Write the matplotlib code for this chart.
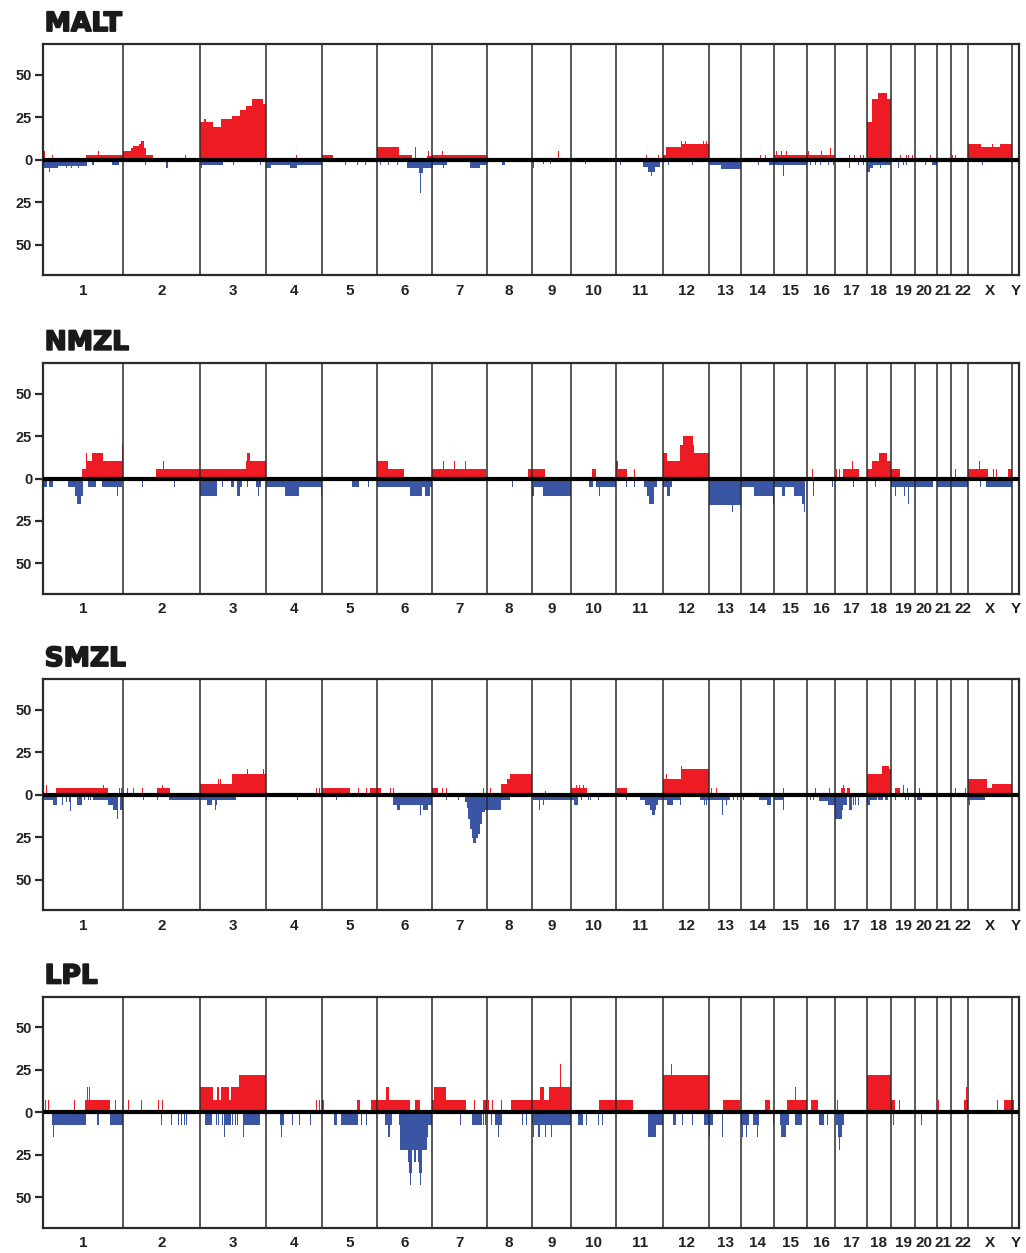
import matplotlib
matplotlib.use('Agg')
import matplotlib.pyplot as plt
import matplotlib.patheffects as pe
import numpy as np

RED = '#ED1C24'
BLUE = '#3A55A4'
LINE = '#2b2b2b'

chrom_names = [str(i) for i in range(1, 23)] + ['X', 'Y']
# relative chromosome widths as drawn along the genome axis
chrom_sizes = [80, 77, 65.7, 56, 55, 54.7, 55, 45, 39.3, 45, 47.3, 46, 31.4,
               33.3, 33, 28.3, 31.4, 24, 24.6, 21.4, 14.3, 17, 44.3, 6.4]

panel_names = ['MALT', 'NMZL', 'SMZL', 'LPL']

# (genome start, genome end, % of cases)
malt_gain = [
    (0.3, 1.3, 5), (8.7, 9.7, 3), (42.7, 80, 3), (54.7, 55.7, 5),
    (80, 87.4, 5), (87.4, 90, 7), (90, 95.7, 8), (95.7, 98, 9), (98, 100.7, 11), (100.7, 102.4, 7),
    (102.4, 109.4, 3), (142, 143, 3),
    (157, 160.7, 22), (160.7, 162.4, 24), (162.4, 170, 22), (170, 177.4, 19.5), (177.4, 188.4, 24),
    (188.4, 196.7, 26), (196.7, 202.4, 29.5), (202.4, 209, 31.5), (209, 219.4, 35.5), (219.4, 222.7, 33),
    (253, 254, 3), (278.7, 290, 3),
    (333.7, 355.7, 7.3), (355.7, 368.4, 3), (372, 373, 7.3), (383.4, 388.4, 2.5), (384.5, 385.5, 5),
    (388.4, 443.4, 3), (399, 400, 5),
    (514.5, 515.5, 5), (603, 604, 3), (614.5, 615.5, 3),
    (620, 622.7, 3), (622.7, 637.7, 7.3), (637.7, 666, 9.4), (638, 639, 11), (641.5, 642.5, 11),
    (660, 661, 11), (662.5, 663.5, 11),
    (716.2, 717.2, 3), (721.2, 722.2, 3),
    (730.7, 763.7, 3), (733, 734, 5), (738, 739, 5), (743, 744, 5),
    (763.7, 792, 3), (764.5, 765.5, 5), (778, 779, 5), (786.2, 787.2, 7),
    (805.5, 806.5, 3), (810.5, 811.5, 3), (817, 818, 3), (819.5, 820.5, 3),
    (823.4, 828.4, 22), (828.4, 835, 35.5), (835, 843.4, 39.5), (843.4, 847.4, 35.5),
    (856.2, 857.2, 3), (863, 864, 3), (864.5, 865.5, 3), (869, 870, 3),
    (886.2, 887.2, 3), (908.5, 909.5, 3), (911.2, 912.2, 3),
    (924.7, 937.7, 9.4), (937.7, 956.7, 7.3), (949, 950, 9.4), (956.7, 969, 9.4),
]
malt_loss = [
    (0, 10, 5), (6, 7, 7.5), (10, 15, 5), (15, 43.4, 3.5), (23, 24, 5), (28, 29, 5), (34.5, 35.5, 5),
    (48.4, 50.7, 3), (68.4, 75.7, 3),
    (102, 103, 3), (122.4, 124.4, 5),
    (157, 180, 3.3), (158, 159, 5), (189.5, 190.5, 3), (216.2, 217.2, 3),
    (222.7, 227.4, 5), (227.4, 246.7, 3), (246.7, 253.4, 5), (253.4, 278.7, 3),
    (302, 303, 3), (314, 315, 3), (321.2, 322.2, 3),
    (336.2, 337.2, 3), (344.5, 345.5, 3), (353.5, 354.5, 3), (364, 388.4, 5), (376, 379.4, 8), (377, 378, 19.6),
    (388.4, 390, 5), (390, 403.4, 3), (399.5, 400.5, 5), (426.7, 436.7, 5), (436.7, 443.4, 3),
    (458.4, 461.7, 3),
    (489.5, 490.5, 5), (499.5, 500.5, 2.5), (506.2, 507.2, 2.5),
    (541.2, 542.2, 2.5),
    (576.2, 577.2, 3), (600, 616.7, 4), (605, 611.7, 7), (608, 609, 9.4),
    (624.5, 625.5, 3), (649, 650, 3),
    (666, 677.4, 3.3), (677.4, 697.4, 5.3),
    (714.5, 715.5, 3), (726, 730.7, 3),
    (730.7, 763.7, 3), (739.5, 740.5, 9.4),
    (766.2, 767.2, 3), (771.2, 772.2, 3), (776.2, 777.2, 3), (784.5, 785.5, 3), (789.5, 790.5, 3),
    (805.5, 806.5, 5), (814.5, 815.5, 3), (819.5, 820.5, 3),
    (823.4, 826.7, 7.5), (826.7, 830, 5), (830, 847.4, 3), (836.2, 837.2, 5),
    (854.5, 855.5, 5), (859.5, 860.5, 3), (863, 864, 3),
    (881.2, 882.2, 3), (888.4, 893.4, 3),
    (939, 940, 3),
]

nmzl_gain = [
    (38.7, 42.7, 5.5), (42.7, 48.7, 10.5), (43, 44, 15), (48.7, 59.4, 15), (59.4, 78.4, 10.5), (78.4, 80, 20),
    (112.7, 157, 5.5), (119.5, 120.5, 10.5),
    (157, 202.4, 5.5), (202.4, 204, 10.5), (204, 206.7, 15), (206.7, 222.7, 10.5),
    (333.7, 344.4, 10.5), (344.4, 360.7, 5.5),
    (388.4, 443, 5.5), (399.5, 400.5, 10.5), (410.2, 411.2, 10.5), (421.2, 422.2, 10.5),
    (484.4, 501.7, 5.5),
    (548.4, 552.7, 5.5),
    (572.7, 575, 10.5), (575, 583.4, 5.5), (590.5, 591.5, 5.5),
    (620, 623.4, 15), (623.4, 636.7, 10.5), (636.7, 639.4, 20), (639.4, 649.4, 25), (649.4, 651, 20), (651, 666, 15),
    (768.5, 769.5, 5.5),
    (792.2, 793.2, 5.5), (795.5, 796.5, 5.5), (799.4, 815.4, 5.5), (809, 810, 10.5),
    (823.4, 828.7, 5.5), (828.7, 836, 10.5), (836, 843.4, 15), (843.4, 847.4, 10.5),
    (847.4, 856.4, 5.5),
    (911.2, 912.2, 5.5),
    (924.7, 944.4, 5.5), (935.5, 936.5, 10.5), (949.5, 950.5, 5.5), (952.2, 953.2, 5.5), (964.7, 969, 5.5),
]
nmzl_loss = [
    (0, 3.4, 5), (5.7, 10, 5), (25, 31.7, 5), (31.7, 33.4, 10), (33.4, 37.7, 15), (37.7, 39.4, 10),
    (44.7, 53, 5), (59, 78.4, 5), (74.2, 75.2, 10),
    (99, 100, 5), (131.2, 132.2, 5),
    (157, 174, 10), (179, 180, 5), (188, 191, 5), (194, 196.7, 10), (196.7, 199, 5), (203.5, 204.5, 5),
    (212.7, 217.4, 5), (214.5, 215.5, 10),
    (222.7, 241.7, 5), (241.7, 255.7, 10), (255.7, 278, 5), (277.2, 278.2, 10),
    (309, 315.7, 5), (324.5, 325.5, 5),
    (333.7, 366.7, 5), (366.7, 378.4, 10), (378.4, 381.7, 5), (381.7, 386.7, 10), (386.7, 388.4, 5),
    (469, 470, 5),
    (488.4, 491, 10), (491, 500, 5), (500, 527.7, 10),
    (546, 550, 5), (552.7, 572.7, 5), (555.2, 556.2, 10),
    (582.2, 583.2, 5), (590.5, 591.5, 5), (601, 613.4, 5), (603.4, 610.7, 10), (606, 610.7, 15),
    (620, 628.4, 5), (623.4, 626.7, 10),
    (666, 697.4, 15.3), (688.5, 689.5, 20),
    (697.4, 710.7, 5), (710.7, 729.4, 10), (729.4, 730.4, 15),
    (730.7, 738.4, 5), (738.4, 741.7, 10), (741.7, 750.4, 5), (750.4, 758.4, 10), (758.4, 761.7, 15),
    (760.5, 761.5, 20),
    (769.5, 770.5, 10), (789, 790, 5),
    (809.5, 810.5, 5),
    (831.2, 832.2, 5),
    (847.4, 872, 5), (851.5, 852.5, 10), (860.2, 861.2, 10), (864.5, 865.5, 15),
    (872, 889.4, 5),
    (894, 907.7, 5),
    (907.7, 924.7, 5),
    (936.2, 937.2, 5), (942.4, 969, 5),
]

smzl_gain = [
    (2.5, 3.5, 6), (12.7, 65, 3.8), (60.2, 61.2, 6), (76.2, 77.2, 3.8), (78.2, 79.2, 3.8),
    (84, 85, 3.8), (89.5, 90.5, 3.8), (99, 100, 3.8), (114, 126.7, 3.8), (119, 120, 6),
    (157, 174, 6.2), (174.5, 175.5, 9), (176.2, 177.2, 9), (174, 188.4, 6.2), (188.4, 222.7, 12),
    (203.5, 204.5, 15), (219.5, 220.5, 15),
    (272.2, 273.2, 3.8), (275.5, 276.5, 3.8),
    (278.7, 306.7, 3.8), (314.5, 315.5, 3.8), (323, 324, 3.8), (326.7, 337.7, 3.8),
    (346.2, 347.2, 3.8), (349.5, 350.5, 3.8),
    (388.4, 395, 3.8), (399, 400, 3.8), (403, 404, 3.8), (439.5, 440.5, 3.8), (446.2, 447.2, 3.8),
    (457.4, 464, 6.2), (464, 466.7, 9), (466.7, 488.4, 12),
    (501.2, 502.2, 2),
    (527.7, 544, 3.8), (533, 534, 6), (535.5, 536.5, 6), (539.5, 540.5, 6),
    (573.4, 583.4, 3.8),
    (620, 623.4, 9), (622.2, 623.2, 12), (623.4, 637.4, 9), (637.4, 666, 15), (638, 639, 17),
    (668, 669, 3.8), (673, 674, 3.8),
    (739.5, 740.5, 3.8),
    (771.2, 772.2, 3.8), (785.5, 786.5, 3.8),
    (798, 801.4, 3.8), (799.5, 800.5, 6), (803.4, 806.7, 3.8),
    (823.4, 839, 12), (839, 846, 17), (846, 847.4, 15),
    (851.7, 856.7, 3.8), (859.5, 860.5, 6), (863.5, 864.5, 3.8),
    (875.5, 876.5, 3.8),
    (911.2, 912.2, 3.8), (921.2, 922.2, 3.8),
    (924.7, 943.4, 9), (943.4, 948.4, 3.8), (948.4, 969, 6.2),
]
smzl_loss = [
    (0, 10, 3), (10, 14, 6.2), (19, 20, 6.2), (23, 24, 4), (25.5, 26.5, 4), (27, 28, 9.6), (33.4, 38.4, 6.2),
    (41.2, 42.2, 3), (44.5, 45.5, 3), (47, 48, 3), (49.4, 65, 3), (65, 70, 6.2), (70, 74, 9.2),
    (73.5, 74.5, 14.4), (76.7, 80, 9.2),
    (100.2, 101.2, 3), (113.5, 114.5, 3), (126, 157, 3),
    (157, 192.4, 3), (164, 169, 6.2), (171.7, 173.4, 6.2), (172, 173, 9.2),
    (223, 224, 3), (254, 255, 3),
    (293, 294, 3),
    (349.4, 388.4, 6.2), (353.4, 356.7, 9.2), (377, 378, 12), (380, 385, 9.2),
    (403, 404, 3), (414.5, 415.5, 3),
    (421.7, 423.4, 4), (423.4, 425, 8), (425, 426.7, 14), (426.7, 428.4, 20), (428.4, 430, 25.5),
    (430, 432.7, 28.5), (432.7, 434.4, 25.5), (434.4, 436.7, 23), (436.7, 439, 17), (439, 441.7, 10),
    (441.7, 443.4, 9.2),
    (443.4, 457.4, 9.2), (457.4, 466.7, 3),
    (490, 527.7, 3), (495.5, 496.5, 9), (499.5, 500.5, 6),
    (527.7, 530.7, 3), (530.7, 535, 6.2), (538, 539, 3), (544.5, 545.5, 3), (546.2, 547.2, 3), (554.5, 555.5, 3),
    (582.2, 583.2, 3), (596.7, 620, 3), (601.7, 615, 6.2), (606.7, 612.7, 9.2), (608.4, 611.7, 12),
    (620, 623.4, 3), (623.4, 630, 6.2), (630, 636.7, 3), (636.2, 637.2, 6),
    (656.7, 686.7, 3), (660.2, 661.2, 6.2), (663, 664, 6.2), (679, 680, 12), (683, 684, 6.2),
    (689.5, 690.5, 3), (693.5, 694.5, 3),
    (699.5, 700.5, 3), (716, 727.4, 3), (723.4, 727.4, 6.2),
    (730.7, 740, 3), (739.5, 740.5, 9),
    (766.2, 767.2, 3), (769.5, 770.5, 3), (776, 792, 3.5), (785, 792, 6.2),
    (792, 798.4, 14.4), (798.4, 800, 9.2), (800, 803.4, 6.2), (806, 808.4, 9.2), (809.5, 810.5, 6.2),
    (811.2, 812.2, 6.2), (814.5, 815.5, 6.2),
    (823.4, 826.7, 6.2), (826.7, 833.4, 3), (835, 840, 3), (841.7, 845, 3),
    (851.2, 852.2, 3), (861.2, 862.2, 3), (864.5, 865.5, 3),
    (873.4, 878.4, 3),
    (892.2, 893.2, 3),
    (924.7, 942, 3), (925.5, 926.5, 6.2),
]

lpl_gain = [
    (1.8, 2.8, 7.4), (4.5, 5.5, 7.4), (30.5, 31.5, 7.4), (41.7, 67, 7.4), (43.5, 44.5, 14.6),
    (45.5, 46.5, 14.6), (72.2, 73.2, 7.4),
    (84.5, 85.5, 7.4), (98.2, 99.2, 7.4), (114.5, 115.5, 7.4), (118.5, 119.5, 7.4),
    (157, 169.3, 14.6), (169.3, 173.3, 7.4), (173.3, 176, 14.6), (176, 177.7, 7.4), (177.7, 186, 14.6),
    (186, 187.7, 7.4), (187.7, 195.3, 14.6), (195.3, 222.7, 22),
    (272.2, 273.2, 7.4), (275.5, 276.5, 7.4),
    (278.7, 281, 7.4), (313.7, 317, 7.4), (327.7, 333.7, 7.4),
    (333.7, 342.7, 7.4), (342.7, 346, 14.6), (346, 367, 7.4), (372, 376.7, 7.4),
    (388.4, 391, 7.4), (391, 403, 14.6), (403, 422.7, 7.4), (430.5, 431.5, 7.4), (439.3, 443.4, 7.4),
    (444.8, 445.8, 7.4), (448.8, 449.8, 7.4), (457.2, 458.2, 7.4), (467.7, 488.4, 7.4),
    (488.4, 497, 7.4), (497, 501, 14.6), (501, 505.3, 7.4), (505.3, 527.7, 14.6), (516.2, 517.2, 28.3),
    (555.3, 572.7, 7.4),
    (572.7, 590, 7.4),
    (620, 666, 22), (627.2, 628.2, 28.3),
    (679.3, 696.7, 7.4),
    (722, 727, 7.4),
    (743.7, 763.7, 7.4), (751.5, 752.5, 14.6),
    (767.7, 775, 7.4), (793.8, 794.8, 7.4),
    (823.4, 847.4, 22),
    (847.4, 852, 7.4), (855.5, 856.5, 7.4),
    (894.8, 895.8, 7.4),
    (920.3, 924.7, 7.4), (922.2, 923.2, 14.6),
    (953.2, 954.2, 7.4), (960.3, 971, 7.4),
]
lpl_loss = [
    (8.7, 42.7, 7.4), (9.5, 10.5, 14.6), (53.7, 56, 7.4), (67, 80, 7.4),
    (118.2, 119.2, 7.4), (128.2, 129.2, 7.4), (134.5, 135.5, 7.4), (137.8, 138.8, 7.4),
    (140.5, 141.5, 7.4), (143.2, 144.2, 7.4),
    (161.7, 168.3, 7.4), (172.2, 173.2, 7.4), (174.8, 175.8, 7.4), (178.2, 179.2, 7.4), (181, 187.7, 7.4),
    (180.8, 181.8, 14.6), (188.8, 189.8, 7.4), (191.2, 192.2, 7.4), (193.8, 194.8, 7.4), (199.3, 217, 7.4),
    (199.8, 200.8, 14.6),
    (237, 240.3, 7.4), (237.5, 238.5, 14.6), (248.8, 249.8, 7.4), (255.5, 256.5, 7.4), (266.2, 267.2, 7.4),
    (291, 293.7, 7.4), (297.7, 315, 7.4), (317.2, 318.2, 7.4), (322.2, 323.2, 7.4),
    (342, 348.7, 7.4), (344.3, 346.7, 14.6), (355.3, 388.4, 7.4), (357, 384.3, 14.6), (357, 383.3, 22),
    (364.3, 368.3, 29.3), (366, 368.3, 36), (366.2, 367.2, 43), (371, 372.7, 29.3), (374.3, 377.7, 29.3),
    (376, 378.3, 36), (376.5, 377.5, 43),
    (416.5, 417.5, 7.4), (428.3, 438.3, 7.4), (439.5, 440.5, 7.4), (441.5, 442.5, 7.4),
    (447.2, 448.2, 7.4), (452, 458.3, 7.4), (454.8, 455.8, 14.6), (478.8, 479.8, 7.4), (482.8, 483.8, 7.4),
    (488.4, 527.7, 7.4), (489.8, 490.8, 14.6), (494.8, 496.8, 14.6), (501.2, 502.2, 14.6), (507.8, 508.8, 14.6),
    (534.3, 540, 7.4), (542.2, 543.2, 7.4), (554.8, 555.8, 7.4), (558.8, 559.8, 7.4),
    (604.3, 620, 7.4), (604.3, 612.7, 14.6),
    (629.3, 632.7, 7.4), (638.8, 639.8, 7.4), (648.2, 649.2, 7.4),
    (660.3, 669.3, 7.4), (665.5, 666.5, 14.6), (678.8, 679.8, 14.6),
    (697.7, 706, 7.4), (698.8, 699.8, 14.6), (702.2, 703.2, 14.6), (710, 716, 7.4), (713.8, 714.8, 14.6),
    (729.5, 730.5, 7.4), (737, 746, 7.4), (737.7, 742.7, 14.6), (752, 758.3, 7.4),
    (776, 780.3, 7.4), (783.8, 784.8, 7.4),
    (792.7, 801, 7.4), (794.3, 798.7, 14.6), (795.5, 796.5, 22),
    (849.5, 850.5, 7.4),
    (877.2, 878.2, 7.4),
]

gains = [malt_gain, nmzl_gain, smzl_gain, lpl_gain]
losses = [malt_loss, nmzl_loss, smzl_loss, lpl_loss]

bounds = np.concatenate([[0], np.cumsum(chrom_sizes)])
centers = (bounds[:-1] + bounds[1:]) / 2
# small nudges (points) so the narrow chromosome labels don't run together
label_nudge = [0] * 19 + [-1.8, -0.5, 2.5, 0, 0]

fig = plt.figure(figsize=(10.26, 12.53), dpi=100)
bottoms = [0.7803, 0.5259, 0.2735, 0.0202]

for name, bot, g, l in zip(panel_names, bottoms, gains, losses):
    ax = fig.add_axes([0.0422, bot, 0.9507, 0.1844])
    g = np.array(g); l = np.array(l)
    ax.bar(g[:, 0], g[:, 2], width=g[:, 1] - g[:, 0], align='edge', color=RED, lw=0)
    ax.bar(l[:, 0], -l[:, 2], width=l[:, 1] - l[:, 0], align='edge', color=BLUE, lw=0)
    for b in bounds[1:-1]:
        ax.axvline(b, color=LINE, lw=1.1, zorder=3)
    ax.axhline(0, color='black', lw=3, zorder=4)
    ax.set_xlim(0, bounds[-1])
    ax.set_ylim(-68, 68)
    ax.set_yticks([50, 25, 0, -25, -50])
    ax.set_yticklabels(['50', '25', '0', '25', '50'], fontsize=10.5, fontweight='bold',
                       family='Liberation Sans', color='#222')
    ax.set_xticks([])
    tr = ax.get_xaxis_transform()
    for c, lab, dx in zip(centers, chrom_names, label_nudge):
        ax.annotate(lab, xy=(c, 0), xycoords=tr, xytext=(dx, -6), textcoords='offset points',
                    ha='center', va='top', fontsize=11, fontweight='bold',
                    family='Liberation Sans', color='#222')
    ax.tick_params(axis='y', length=6, width=1.6, color=LINE, pad=2)
    for s in ax.spines.values():
        s.set_color(LINE); s.set_linewidth(1.6)
    ax.annotate(name, xy=(0, 1), xycoords='axes fraction', xytext=(1, 9.5),
                textcoords='offset points', ha='left', va='baseline',
                fontsize=19, fontweight='bold', family='DejaVu Sans', color='#1a1a1a',
                path_effects=[pe.withStroke(linewidth=1.3, foreground='#1a1a1a')])

fig.savefig('out.png', dpi=100)
